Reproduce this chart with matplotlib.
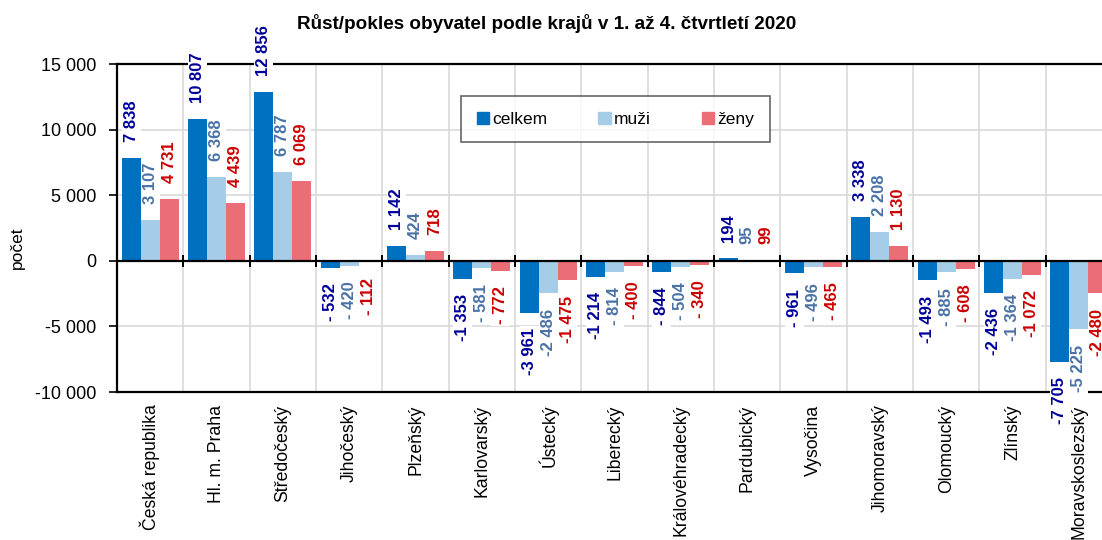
import matplotlib

matplotlib.use("Agg")
import matplotlib.pyplot as plt
from matplotlib.patches import Patch
from matplotlib.ticker import FuncFormatter
import numpy as np

plt.rcParams["font.family"] = ["Liberation Sans", "DejaVu Sans"]

# --- data ---------------------------------------------------------------------
regions = [
    "Česká republika", "Hl. m. Praha", "Středočeský", "Jihočeský", "Plzeňský",
    "Karlovarský", "Ústecký", "Liberecký", "Královéhradecký", "Pardubický",
    "Vysočina", "Jihomoravský", "Olomoucký", "Zlínský", "Moravskoslezský",
]
celkem = [7838, 10807, 12856, -532, 1142, -1353, -3961, -1214, -844, 194,
          -961, 3338, -1493, -2436, -7705]
muzi = [3107, 6368, 6787, -420, 424, -581, -2486, -814, -504, 95,
        -496, 2208, -885, -1364, -5225]
zeny = [4731, 4439, 6069, -112, 718, -772, -1475, -400, -340, 99,
        -465, 1130, -608, -1072, -2480]
series_names = ["celkem", "muži", "ženy"]
y_ticks = [-10000, -5000, 0, 5000, 10000, 15000]

BAR_COLORS = ["#0070C0", "#A6CDE8", "#EB6E76"]
LABEL_COLORS = ["#000099", "#4A72A6", "#CC0000"]
GRID = "#D9D9D9"


def fmt(v):
    """Excel-like '# ##0' with space as thousands separator."""
    s = f"{abs(int(v)):,}".replace(",", " ")
    if v < 0:
        return ("- " if abs(v) < 1000 else "-") + s
    return s


fig = plt.figure(figsize=(11.02, 5.4), dpi=100)
ax = fig.add_axes([0.1062, 0.274, 0.9029, 0.6074])

x = np.arange(len(regions))
width = 0.287
for i, (vals, name) in enumerate(zip([celkem, muzi, zeny], series_names)):
    xs = x + (i - 1) * width
    ax.bar(xs, vals, width=width, color=BAR_COLORS[i], zorder=2, label=name)
    for xv, v in zip(xs, vals):
        off = 11.5 if v >= 0 else -11
        ax.annotate(
            fmt(v), xy=(xv, v), xytext=(0, off), textcoords="offset points",
            rotation=90, ha="center", va="bottom" if v >= 0 else "top",
            fontsize=12, fontweight="bold", color=LABEL_COLORS[i],
            bbox=dict(boxstyle="square,pad=0.12", fc="white", ec="none"),
            annotation_clip=False, zorder=6,
        )

ax.set_xlim(-0.5, len(regions) - 0.5)
ax.set_ylim(y_ticks[0], y_ticks[-1])
ax.set_yticks(y_ticks)
ax.yaxis.set_major_formatter(FuncFormatter(lambda v, p: fmt(v)))
ax.tick_params(axis="y", labelsize=13, length=6, width=1.2, pad=9,
               direction="out")

ax.set_xticks(x)
ax.set_xticklabels(regions, rotation=90, fontsize=12.7)
ax.tick_params(axis="x", length=0, pad=9)

# gridlines: horizontal at major ticks, vertical at category boundaries
bounds = np.arange(len(regions) + 1) - 0.5
ax.set_xticks(bounds, minor=True)
ax.tick_params(axis="x", which="minor", length=0)
ax.grid(axis="y", color=GRID, lw=1.2, zorder=0)
ax.grid(axis="x", which="minor", color=GRID, lw=1.2, zorder=0)
ax.set_axisbelow(True)

for side in ("top", "bottom", "left"):
    ax.spines[side].set_color("black")
    ax.spines[side].set_linewidth(1.6)
ax.spines["right"].set_visible(False)
ax.axhline(0, color="black", lw=1.6, zorder=3)
ax.plot(bounds, np.zeros_like(bounds), ls="none", marker="|", ms=9,
        mew=1.4, color="black", zorder=3, clip_on=False)

ax.set_ylabel("počet", fontsize=12.5)
ax.yaxis.set_label_coords(-0.093, 0.44)

handles = [Patch(color=c) for c in BAR_COLORS]
leg = ax.legend(
    handles, series_names, ncol=3, loc="center",
    bbox_to_anchor=(0.3457, 0.832, 0.3106, 0.0), mode="expand",
    fontsize=12.5, frameon=True, fancybox=False, edgecolor="#404040",
    handlelength=0.7, handleheight=0.7, handletextpad=0.2, columnspacing=2.0,
    borderpad=0.9, borderaxespad=0,
)
leg.get_frame().set_linewidth(1.2)
leg.set_zorder(7)

fig.text(0.496, 0.957, "Růst/pokles obyvatel podle krajů v 1. až 4. čtvrtletí 2020",
         ha="center", va="center", fontsize=13.6, fontweight="bold")

fig.savefig("out.png", dpi=100)
